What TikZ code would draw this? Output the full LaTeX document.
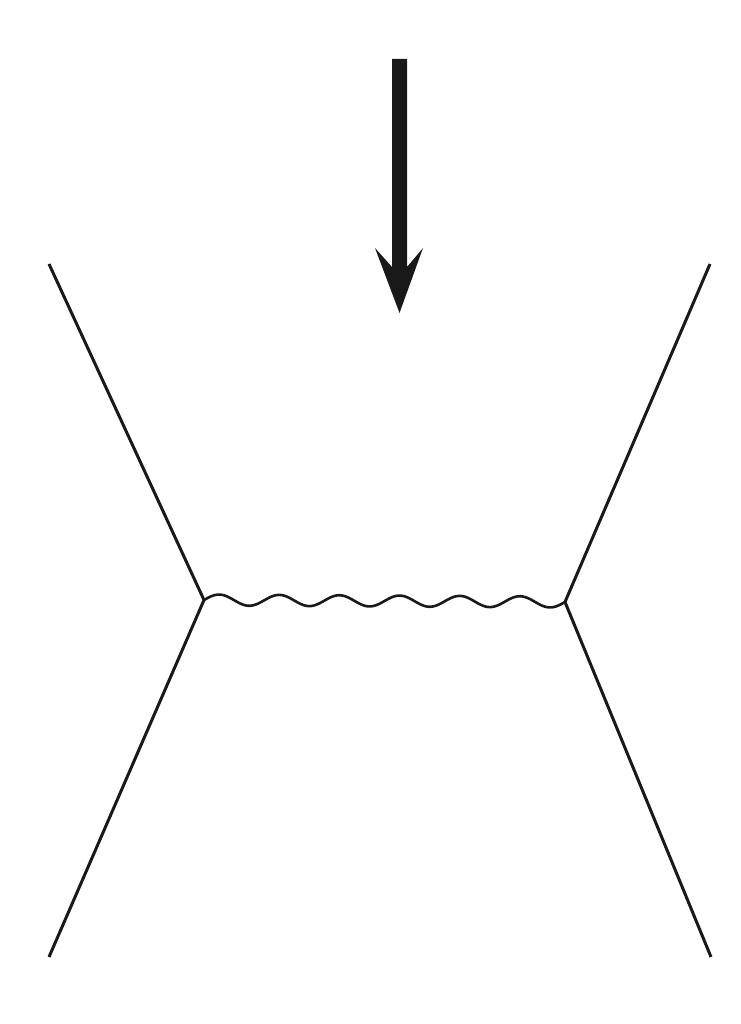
\documentclass[tikz,border=0pt]{standalone}
\begin{document}
\begin{tikzpicture}[x=1pt,y=-1pt,
  fermion/.style={line width=3pt,black!90},
  photon/.style={line width=2.6pt,black!90},
  arrowfill/.style={fill=black!90,draw=none}]
\useasboundingbox (0,0) rectangle (740,1024);
\coordinate (LT) at (49,264);
\coordinate (LV) at (204,600);
\coordinate (LB) at (49,957);
\coordinate (RT) at (710,264);
\coordinate (RV) at (565,602);
\coordinate (RB) at (711,957);
\draw[fermion] (LT) -- (LV) -- (LB);
\draw[fermion] (RT) -- (RV) -- (RB);
\draw[photon,line join=round] plot[domain=0:1,samples=300] ({204+361*\x},{600+2*\x-5.5*sin(2160*\x)});
\fill[arrowfill] (392,59) -- (407,59) -- (407,267) -- (423,248) -- (399.5,313) -- (375,248) -- (392,267) -- cycle;
\end{tikzpicture}
\end{document}
